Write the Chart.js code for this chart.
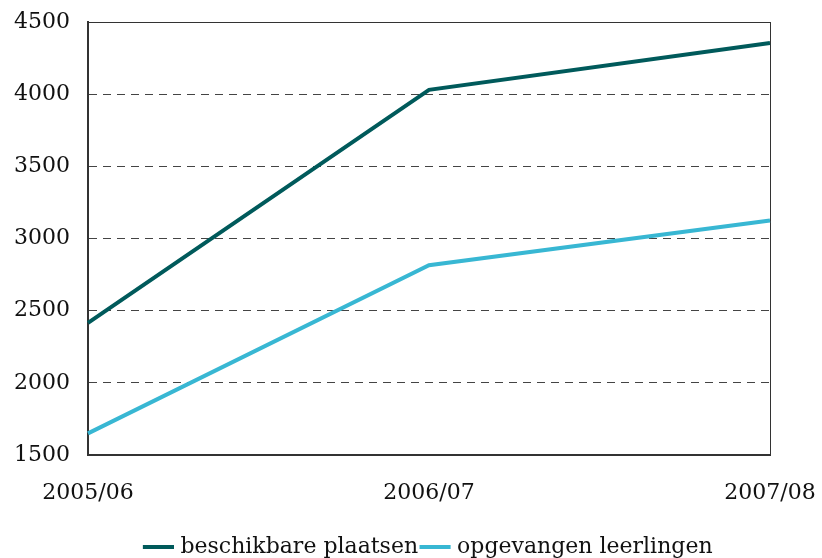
<!DOCTYPE html>
<html>
<head>
<meta charset="utf-8">
<script src="https://cdn.jsdelivr.net/npm/chart.js@4/dist/chart.umd.min.js"></script>
<style>
html,body{margin:0;padding:0;background:#fff;}
#wrap{width:822px;height:558px;}
</style>
</head>
<body>
<div id="wrap"><canvas id="c" width="822" height="558"></canvas></div>
<script>
const categories = ["2005/06", "2006/07", "2007/08"];
const beschikbarePlaatsen = [2415, 4030, 4355];
const opgevangenLeerlingen = [1650, 2815, 3125];
const seriesNames = ["beschikbare plaatsen", "opgevangen leerlingen"];
const yTicks = [1500, 2000, 2500, 3000, 3500, 4000, 4500];

const FONT = "'DejaVu Serif', 'Liberation Serif', serif";

const frame = {
  id: 'frame',
  beforeDatasetsDraw(chart) {
    const a = chart.chartArea, ctx = chart.ctx;
    ctx.save();
    ctx.strokeStyle = '#333';
    ctx.lineWidth = 1;
    ctx.setLineDash([]);
    ctx.strokeRect(Math.round(a.left) + 0.5, Math.round(a.top) + 0.5, Math.round(a.right - a.left), Math.round(a.bottom - a.top));
    ctx.restore();
  }
};

new Chart(document.getElementById('c'), {
  type: 'line',
  data: {
    labels: categories,
    datasets: [
      { label: seriesNames[0], data: beschikbarePlaatsen, borderColor: '#005a5b', backgroundColor: '#005a5b', borderWidth: 4, pointRadius: 0, tension: 0 },
      { label: seriesNames[1], data: opgevangenLeerlingen, borderColor: '#38b7d3', backgroundColor: '#38b7d3', borderWidth: 4, pointRadius: 0, tension: 0 }
    ]
  },
  options: {
    responsive: false,
    animation: false,
    layout: { padding: { top: 22, left: 38, right: 0, bottom: -10 } },
    plugins: {
      legend: {
        position: 'bottom',
        labels: {
          usePointStyle: true,
          pointStyle: 'line',
          boxWidth: 35,
          padding: 6,
          color: '#111',
          font: { family: FONT, size: 22 }
        }
      },
      tooltip: { enabled: false }
    },
    scales: {
      x: {
        offset: false,
        grid: { display: false },
        border: { color: '#333', width: 2 },
        ticks: { color: '#111', font: { family: FONT, size: 22 }, maxRotation: 0, autoSkip: false, padding: 17 },
        afterFit(s) { s.paddingLeft = 0; s.paddingRight = 52; s.height = 75; }
      },
      y: {
        min: 1500, max: 4500,
        afterBuildTicks(axis) { axis.ticks = yTicks.map(v => ({ value: v })); },
        grid: { color: '#444', lineWidth: 1, drawTicks: false },
        border: { color: '#333', width: 2, dash: [8, 6] },
        ticks: { color: '#111', font: { family: FONT, size: 22 }, padding: 18, callback: v => String(v) },
        afterFit(s) { s.width = 50; s.paddingTop = 0; s.paddingBottom = 0; s._computeLabelArea = () => undefined; }
      }
    }
  },
  plugins: [frame]
});
</script>
</body>
</html>
